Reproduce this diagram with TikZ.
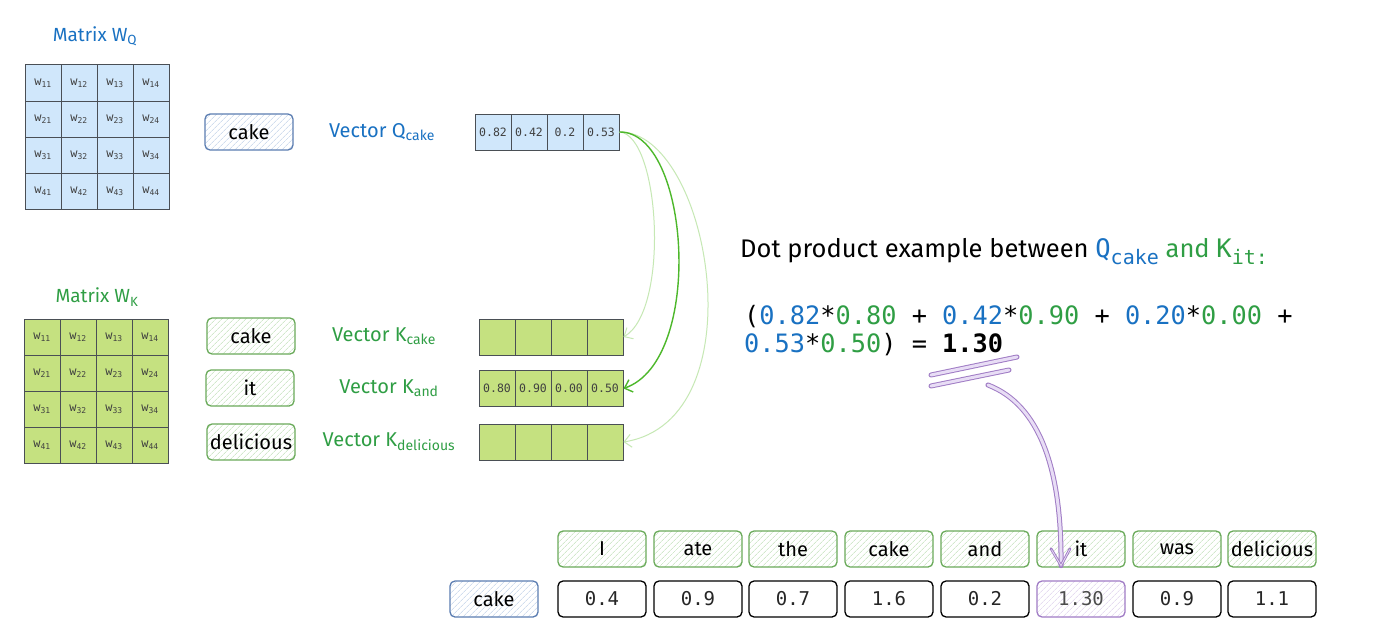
\documentclass[tikz,border=0pt]{standalone}
\usepackage{fontspec}
\setmainfont{Fira Sans}
\newfontfamily\monof{DejaVu Sans Mono}
\usetikzlibrary{patterns.meta,arrows.meta}
\definecolor{qblue}{HTML}{1971C2}
\definecolor{kgreen}{HTML}{2F9E44}
\definecolor{qfill}{HTML}{D0E7FB}
\definecolor{kfill}{HTML}{C5E180}
\definecolor{cellline}{HTML}{4A4F55}
\definecolor{qbox}{HTML}{5B7DB1}
\definecolor{kbox}{HTML}{6AAA5A}
\definecolor{khatch}{HTML}{B9DDB0}
\definecolor{qhatch}{HTML}{B8CBE6}
\definecolor{arrdark}{HTML}{4DB82B}
\definecolor{arrlight}{HTML}{C6E8B4}
\definecolor{pur}{HTML}{A07CC5}
\definecolor{purlight}{HTML}{E8DDF5}
\newcommand{\sz}[1]{\fontsize{#1}{#1}\selectfont}
\newcommand{\bigsub}[1]{\raisebox{-0.28em}{\sz{20}#1}}
\tikzset{
  cellq/.style={draw=cellline, fill=qfill, line width=1pt, minimum width=36pt, minimum height=36pt, inner sep=0pt, font=\monof\sz{12}, text=black!75},
  cellk/.style={cellq, fill=kfill},
  vcq/.style={cellq, font=\monof\sz{11.5}},
  vck/.style={cellk, font=\monof\sz{11.5}},
  hbox/.style={rounded corners=5pt, line width=1.3pt, minimum width=88pt, minimum height=36pt, inner sep=0pt, font=\sz{20}},
  qword/.style={hbox, draw=qbox, pattern={Lines[angle=45,distance=4pt,line width=0.5pt]}, pattern color=qhatch},
  kword/.style={hbox, draw=kbox, pattern={Lines[angle=45,distance=4pt,line width=0.5pt]}, pattern color=khatch},
  valbox/.style={hbox, draw=black, font=\monof\sz{19}, text=black!85},
  pvalbox/.style={hbox, draw=pur, pattern={Lines[angle=45,distance=4pt,line width=0.5pt]}, pattern color=purlight!80!pur, font=\monof\sz{19}, text=black!70},
  qlabel/.style={text=qblue, font=\sz{20}},
  klabel/.style={text=kgreen, font=\sz{20}},
  lightarr/.style={draw=arrlight, line width=1pt, -{Straight Barb[length=7pt,width=13pt]}},
  darkarr/.style={draw=arrdark, line width=1.4pt, -{Straight Barb[length=7pt,width=13pt]}},
  scrib/.style={draw=pur, double=purlight, double distance=3pt, line width=1pt, line cap=round}
}
\begin{document}
\begin{tikzpicture}[x=1pt,y=-1pt]
\fill[white] (0,0) rectangle (1390,642);
\useasboundingbox (0,0) rectangle (1390,642);

% Matrix W_Q
\node[text=qblue, font=\sz{19}] (mq) at (95,36) {Matrix W\textsubscript{Q}};
\foreach \i in {1,...,4}{\foreach \j in {1,...,4}{
  \node[cellq] (q\i\j) at ({43+36*(\j-1)},{83+36*(\i-1)}) {w\textsubscript{\i\j}};}}

% Matrix W_K
\node[text=kgreen, font=\sz{19}] (mk) at (97,297) {Matrix W\textsubscript{K}};
\foreach \i in {1,...,4}{\foreach \j in {1,...,4}{
  \node[cellk] (k\i\j) at ({42+36*(\j-1)},{337+36*(\i-1)}) {w\textsubscript{\i\j}};}}

% Query word and vector
\node[qword] (cq) at (249,132) {cake};
\node[qlabel] (vq) at (382,132) {Vector Q\textsubscript{cake}};
\foreach \v [count=\c] in {0.82,0.42,0.2,0.53}
  \node[vcq] (qv\c) at ({493+36*(\c-1)},132) {\v};

% Key words and vectors
\node[kword] (kwc) at (251,336) {cake};
\node[kword] (kwi) at (250,388) {it};
\node[kword] (kwd) at (251,442) {delicious};
\node[klabel] (vkc) at (384,336) {Vector K\textsubscript{cake}};
\node[klabel] (vka) at (389,388) {Vector K\textsubscript{and}};
\node[klabel] (vkd) at (389,442) {Vector K\textsubscript{delicious}};
\foreach \c in {1,...,4}{
  \node[vck] (kc\c) at ({497+36*(\c-1)},337) {};
  \node[vck] (kd\c) at ({497+36*(\c-1)},442) {};}
\foreach \v [count=\c] in {0.80,0.90,0.00,0.50}
  \node[vck] (ka\c) at ({497+36*(\c-1)},388.5) {\v};

% Arrows from Q to K vectors
\draw[lightarr] (qv4.east) .. controls (660,135) and (670,310) .. (kc4.east);
\draw[lightarr] (qv4.east) .. controls (710,131) and (760,420) .. (kd4.east);
\draw[darkarr] (qv4.east) .. controls (690,131) and (705,360) .. (ka4.east);

% Dot product text
\node[anchor=base west, font=\sz{25.5}, inner sep=0pt] (dp) at (740,257)
  {Dot product example between {\monof\color{qblue}Q\bigsub{cake}} {\color{kgreen}and} {\monof\color{kgreen}K\bigsub{it:}}};
\node[anchor=base west, font=\monof\sz{25.3}, inner sep=0pt] (eq1) at (744,324)
  {(\textcolor{qblue}{0.82}*\textcolor{kgreen}{0.80} + \textcolor{qblue}{0.42}*\textcolor{kgreen}{0.90} + \textcolor{qblue}{0.20}*\textcolor{kgreen}{0.00} +};
\node[anchor=base west, font=\monof\sz{25.3}, inner sep=0pt] (eq2) at (744,352)
  {\textcolor{qblue}{0.53}*\textcolor{kgreen}{0.50}) = \textbf{1.30}};

% Bottom rows
\foreach \w/\x [count=\c] in {I/602,ate/698,the/793,cake/889,and/985,it/1081,was/1177,delicious/1272}
  \node[kword] (w\c) at (\x,549) {\w};
\node[qword] (qc) at (494,599) {cake};
\node[valbox] (v1) at (602,599) {0.4};
\node[valbox] (v2) at (698,599) {0.9};
\node[valbox] (v3) at (793,599) {0.7};
\node[valbox] (v4) at (889,599) {1.6};
\node[valbox] (v5) at (985,599) {0.2};
\node[pvalbox] (v6) at (1081,599) {1.30};
\node[valbox] (v7) at (1177,599) {0.9};
\node[valbox] (v8) at (1272,599) {1.1};

% Purple highlight and arrow
\coordinate (s1a) at (931,375);
\coordinate (s1b) at (1017,357);
\coordinate (s2a) at (931,386);
\coordinate (s2b) at (1009,370);
\coordinate (ps) at (988,385);
\coordinate (pe) at ([xshift=-20pt,yshift=2pt]w6.south);
\draw[scrib] (s1a) -- (s1b);
\draw[scrib] (s2a) -- (s2b);
\draw[scrib] (ps) .. controls (1040,405) and (1062,470) .. (pe);
\draw[pur, line width=2.6pt, line cap=round, line join=round] ([xshift=-10pt,yshift=17pt]pe) -- (pe) -- ([xshift=9pt,yshift=17pt]pe);
\draw[purlight, line width=0.8pt, line cap=round] ([xshift=-9.5pt,yshift=16pt]pe) -- (pe) -- ([xshift=8.5pt,yshift=16pt]pe);
\end{tikzpicture}
\end{document}
